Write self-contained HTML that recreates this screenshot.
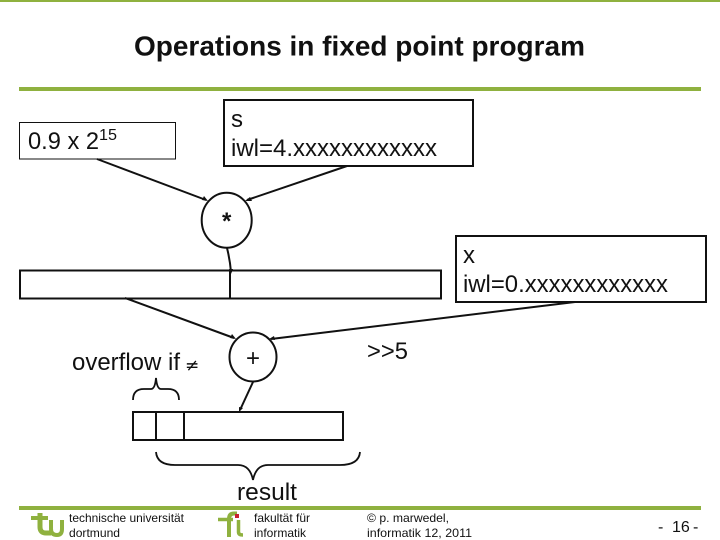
<!DOCTYPE html>
<html><head><meta charset="utf-8"><style>
html,body{margin:0;padding:0;background:#fff}
svg{display:block}
text{font-family:"Liberation Sans",sans-serif;fill:#111}
</style></head><body>
<svg width="720" height="540" viewBox="0 0 720 540" xmlns="http://www.w3.org/2000/svg">
<rect width="720" height="540" fill="#fff"/>
<rect x="0" y="0" width="720" height="2" fill="#8fb13f"/>
<rect x="19" y="87" width="682" height="4" fill="#8fb13f"/>
<rect x="19" y="506" width="682" height="4" fill="#8fb13f"/>
<text x="134" y="55.500" font-size="28" font-weight="bold" textLength="451" lengthAdjust="spacingAndGlyphs" fill="#000">Operations in fixed point program</text>

<g fill="none" stroke="#111">
<rect x="19.500" y="122.500" width="156" height="36.500" stroke-width="1"/>
<rect x="224" y="100" width="249" height="66" stroke-width="2"/>
<rect x="20" y="270.500" width="421" height="28" stroke-width="2"/>
<line x1="230" y1="270" x2="230" y2="298" stroke-width="2"/>
<rect x="456" y="236" width="250" height="66" stroke-width="2"/>
<ellipse cx="226.700" cy="220.200" rx="25" ry="27.500" stroke-width="2"/>
<ellipse cx="253" cy="357" rx="23.500" ry="24.500" stroke-width="2"/>
<rect x="133" y="412" width="210" height="28" stroke-width="2"/>
<line x1="156" y1="412" x2="156" y2="440" stroke-width="2"/>
<line x1="184" y1="412" x2="184" y2="440" stroke-width="2"/>
<line x1="97" y1="159" x2="206" y2="200" stroke-width="2"/>
<line x1="347" y1="166" x2="247" y2="200" stroke-width="2"/>
<path d="M227 248 Q230 260 231 272" stroke-width="2"/>
<line x1="125" y1="298" x2="234" y2="338" stroke-width="2"/>
<line x1="575" y1="302" x2="271" y2="339" stroke-width="2"/>
<line x1="253" y1="382" x2="240" y2="410" stroke-width="2"/>
<path d="M133 400 Q133 389 144 389 L151 389 Q155 389 156 378 Q157 389 161 389 L168 389 Q179 389 179 400" stroke-width="1.800"/>
<path d="M156 452 Q157 465 175 465 L238 465 Q250 465 253 480 Q256 465 268 465 L340 465 Q359 465 360 452" stroke-width="1.800"/>
</g>
<g fill="#111">
<polygon points="208,201 202,200 204,196"/>
<polygon points="245,201 250,197 252,201"/>
<polygon points="231,274 229,269 233,269"/>
<polygon points="236,339 230,338 232,334"/>
<polygon points="269,339 274,336 275,340"/>
<polygon points="239,412 239,407 243,408"/>
</g>

<text x="28" y="149" font-size="24" textLength="71" lengthAdjust="spacingAndGlyphs">0.9 x 2</text>
<text x="99" y="140" font-size="16" textLength="18" lengthAdjust="spacingAndGlyphs">15</text>
<text x="231" y="127" font-size="24">s</text>
<text x="231" y="156" font-size="24" textLength="206" lengthAdjust="spacingAndGlyphs">iwl=4.xxxxxxxxxxxx</text>
<text x="222" y="229" font-size="24" font-weight="bold">*</text>
<text x="463" y="263" font-size="24">x</text>
<text x="463" y="292" font-size="24" textLength="205" lengthAdjust="spacingAndGlyphs">iwl=0.xxxxxxxxxxxx</text>
<text x="72" y="370" font-size="24" textLength="108" lengthAdjust="spacingAndGlyphs">overflow if</text>
<text x="185" y="371" font-size="17" style="font-family:'DejaVu Sans',sans-serif">≠</text>
<text x="246" y="366" font-size="24">+</text>
<text x="367" y="359" font-size="24" textLength="41" lengthAdjust="spacingAndGlyphs">&gt;&gt;5</text>
<text x="237" y="500" font-size="24" textLength="60" lengthAdjust="spacingAndGlyphs">result</text>

<g fill="none" stroke="#8fb13f">
<path d="M31 518 H48" stroke-width="4"/>
<path d="M40 513 V527 Q40 533 46 533 H51" stroke-width="5"/>
<path d="M51 520 V529 Q51 535 57 535 Q62 535 62 529 V520" stroke-width="4"/>
<path d="M218 519.500 H233" stroke-width="3.500"/>
<path d="M229 537 V519 Q229 513.500 234 513.500 H237" stroke-width="4"/>
<path d="M238.500 520 V532 Q238.500 535 243 535" stroke-width="3.500"/>
</g>
<rect x="235" y="514" width="4" height="4" fill="#c8202f"/>

<g font-size="12">
<text x="69" y="522" textLength="115" lengthAdjust="spacingAndGlyphs">technische universität</text>
<text x="69" y="537" textLength="51" lengthAdjust="spacingAndGlyphs">dortmund</text>
<text x="254" y="522" textLength="56" lengthAdjust="spacingAndGlyphs">fakultät für</text>
<text x="254" y="537" textLength="52" lengthAdjust="spacingAndGlyphs">informatik</text>
<text x="367" y="522" textLength="82" lengthAdjust="spacingAndGlyphs">© p. marwedel,</text>
<text x="367" y="537" textLength="105" lengthAdjust="spacingAndGlyphs">informatik 12,  2011</text>
</g>
<text x="658" y="532" font-size="16">-</text>
<text x="672" y="532" font-size="16">16</text>
<text x="693" y="532" font-size="16">-</text>
</svg>
</body></html>
